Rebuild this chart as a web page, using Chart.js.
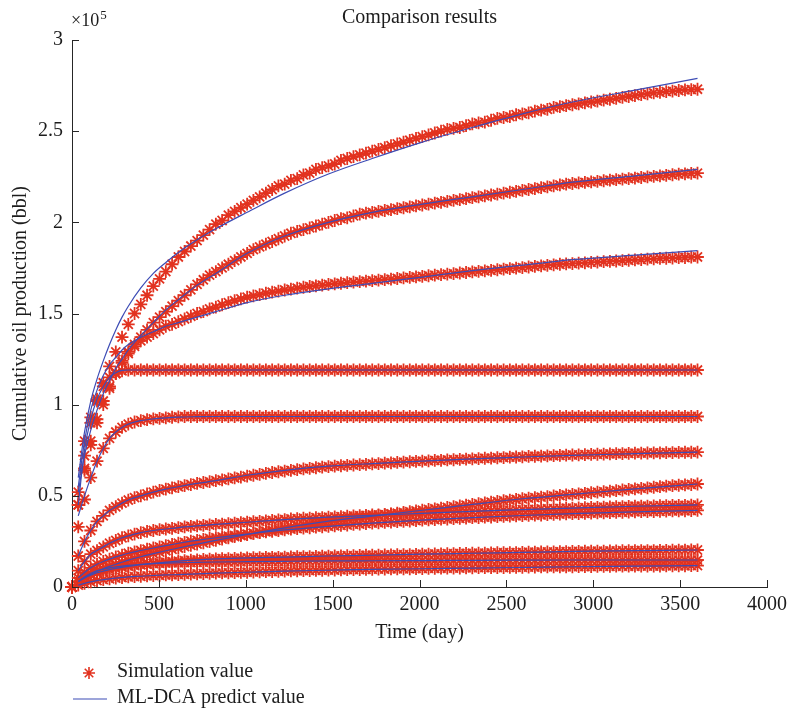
<!DOCTYPE html>
<html>
<head>
<meta charset="utf-8">
<title>Comparison results</title>
<script src="https://cdn.jsdelivr.net/npm/chart.js"></script>
<style>
  html, body { margin: 0; padding: 0; background: #fff; }
  #wrap { width: 787px; height: 712px; }
</style>
</head>
<body>
<div id="wrap"><canvas id="chart" width="787" height="712"></canvas></div>
<script>
// time axis of the simulation samples (day)
const days = [0, 36, 72, 108, 144, 180, 216, 252, 288, 324,
  360, 396, 432, 468, 504, 540, 576, 612, 648, 684,
  720, 756, 792, 828, 864, 900, 936, 972, 1008, 1044,
  1080, 1116, 1152, 1188, 1224, 1260, 1296, 1332, 1368, 1404,
  1440, 1476, 1512, 1548, 1584, 1620, 1656, 1692, 1728, 1764,
  1800, 1836, 1872, 1908, 1944, 1980, 2016, 2052, 2088, 2124,
  2160, 2196, 2232, 2268, 2304, 2340, 2376, 2412, 2448, 2484,
  2520, 2556, 2592, 2628, 2664, 2700, 2736, 2772, 2808, 2844,
  2880, 2916, 2952, 2988, 3024, 3060, 3096, 3132, 3168, 3204,
  3240, 3276, 3312, 3348, 3384, 3420, 3456, 3492, 3528, 3564,
  3600];

// simulation values, cumulative oil (x1e5 bbl)
const sim1 = [0, 0.45, 0.72, 0.9, 1.02, 1.12, 1.21, 1.29, 1.37, 1.44,
  1.5, 1.55, 1.6, 1.65, 1.69, 1.73, 1.77, 1.81, 1.84, 1.87,
  1.9, 1.93, 1.96, 1.99, 2.01, 2.04, 2.06, 2.08, 2.1, 2.12,
  2.14, 2.16, 2.18, 2.2, 2.21, 2.23, 2.24, 2.26, 2.27, 2.29,
  2.3, 2.31, 2.32, 2.34, 2.35, 2.36, 2.37, 2.38, 2.39, 2.4,
  2.41, 2.42, 2.43, 2.44, 2.45, 2.46, 2.47, 2.48, 2.49, 2.5,
  2.51, 2.515, 2.52, 2.53, 2.54, 2.545, 2.55, 2.56, 2.57, 2.575,
  2.58, 2.59, 2.595, 2.6, 2.61, 2.615, 2.62, 2.63, 2.635, 2.64,
  2.645, 2.65, 2.655, 2.66, 2.665, 2.67, 2.675, 2.68, 2.685, 2.69,
  2.695, 2.7, 2.705, 2.71, 2.713, 2.717, 2.72, 2.723, 2.726, 2.728,
  2.73];
const sim2 = [0, 0.45, 0.64, 0.78, 0.9, 1.0, 1.09, 1.17, 1.24, 1.29,
  1.33, 1.37, 1.41, 1.45, 1.48, 1.51, 1.54, 1.57, 1.6, 1.63,
  1.66, 1.685, 1.71, 1.73, 1.75, 1.77, 1.79, 1.81, 1.83, 1.85,
  1.865, 1.88, 1.895, 1.91, 1.925, 1.94, 1.95, 1.96, 1.97, 1.98,
  1.99, 2.0, 2.01, 2.02, 2.025, 2.035, 2.045, 2.05, 2.055, 2.06,
  2.065, 2.07, 2.075, 2.08, 2.085, 2.09, 2.095, 2.1, 2.105, 2.11,
  2.115, 2.12, 2.125, 2.13, 2.135, 2.14, 2.145, 2.15, 2.155, 2.16,
  2.165, 2.17, 2.175, 2.18, 2.185, 2.19, 2.195, 2.2, 2.205, 2.21,
  2.213, 2.216, 2.219, 2.222, 2.225, 2.228, 2.231, 2.234, 2.237, 2.24,
  2.243, 2.246, 2.249, 2.252, 2.255, 2.258, 2.261, 2.264, 2.266, 2.268,
  2.27];
const sim3 = [0, 0.45, 0.65, 0.8, 0.92, 1.02, 1.1, 1.17, 1.23, 1.28,
  1.32, 1.35, 1.37, 1.39, 1.41, 1.43, 1.44, 1.455, 1.47, 1.485,
  1.5, 1.51, 1.525, 1.535, 1.548, 1.56, 1.57, 1.58, 1.59, 1.597,
  1.604, 1.611, 1.617, 1.623, 1.629, 1.634, 1.639, 1.644, 1.648, 1.652,
  1.656, 1.66, 1.663, 1.666, 1.669, 1.672, 1.675, 1.678, 1.68, 1.683,
  1.686, 1.689, 1.692, 1.695, 1.698, 1.701, 1.704, 1.707, 1.71, 1.713,
  1.716, 1.719, 1.722, 1.725, 1.728, 1.731, 1.734, 1.737, 1.74, 1.743,
  1.746, 1.749, 1.752, 1.755, 1.758, 1.761, 1.764, 1.767, 1.77, 1.772,
  1.774, 1.776, 1.778, 1.78, 1.782, 1.784, 1.786, 1.788, 1.79, 1.792,
  1.794, 1.796, 1.798, 1.8, 1.802, 1.803, 1.804, 1.806, 1.807, 1.809,
  1.81];
const sim4 = [0, 0.52, 0.8, 0.93, 1.03, 1.1, 1.15, 1.175, 1.185, 1.19,
  1.19, 1.19, 1.19, 1.19, 1.19, 1.19, 1.19, 1.19, 1.19, 1.19,
  1.19, 1.19, 1.19, 1.19, 1.19, 1.19, 1.19, 1.19, 1.19, 1.19,
  1.19, 1.19, 1.19, 1.19, 1.19, 1.19, 1.19, 1.19, 1.19, 1.19,
  1.19, 1.19, 1.19, 1.19, 1.19, 1.19, 1.19, 1.19, 1.19, 1.19,
  1.19, 1.19, 1.19, 1.19, 1.19, 1.19, 1.19, 1.19, 1.19, 1.19,
  1.19, 1.19, 1.19, 1.19, 1.19, 1.19, 1.19, 1.19, 1.19, 1.19,
  1.19, 1.19, 1.19, 1.19, 1.19, 1.19, 1.19, 1.19, 1.19, 1.19,
  1.19, 1.19, 1.19, 1.19, 1.19, 1.19, 1.19, 1.19, 1.19, 1.19,
  1.19, 1.19, 1.19, 1.19, 1.19, 1.19, 1.19, 1.19, 1.19, 1.19,
  1.19];
const sim5 = [0, 0.33, 0.48, 0.6, 0.69, 0.76, 0.815, 0.85, 0.875, 0.893,
  0.905, 0.912, 0.918, 0.922, 0.925, 0.928, 0.931, 0.933, 0.935, 0.935,
  0.935, 0.935, 0.935, 0.935, 0.935, 0.935, 0.935, 0.935, 0.935, 0.935,
  0.935, 0.935, 0.935, 0.935, 0.935, 0.935, 0.935, 0.935, 0.935, 0.935,
  0.935, 0.935, 0.935, 0.935, 0.935, 0.935, 0.935, 0.935, 0.935, 0.935,
  0.935, 0.935, 0.935, 0.935, 0.935, 0.935, 0.935, 0.935, 0.935, 0.935,
  0.935, 0.935, 0.935, 0.935, 0.935, 0.935, 0.935, 0.935, 0.935, 0.935,
  0.935, 0.935, 0.935, 0.935, 0.935, 0.935, 0.935, 0.935, 0.935, 0.935,
  0.935, 0.935, 0.935, 0.935, 0.935, 0.935, 0.935, 0.935, 0.935, 0.935,
  0.935, 0.935, 0.935, 0.935, 0.935, 0.935, 0.935, 0.935, 0.935, 0.935,
  0.935];
const sim6 = [0, 0.17, 0.25, 0.31, 0.36, 0.39, 0.42, 0.44, 0.46, 0.477,
  0.49, 0.5, 0.51, 0.52, 0.53, 0.537, 0.544, 0.55, 0.556, 0.562,
  0.568, 0.573, 0.578, 0.583, 0.588, 0.593, 0.598, 0.603, 0.608, 0.613,
  0.618, 0.623, 0.628, 0.632, 0.636, 0.64, 0.644, 0.648, 0.651, 0.654,
  0.657, 0.66, 0.663, 0.665, 0.667, 0.669, 0.671, 0.673, 0.675, 0.677,
  0.679, 0.681, 0.683, 0.685, 0.687, 0.689, 0.69, 0.692, 0.694, 0.695,
  0.697, 0.698, 0.7, 0.701, 0.703, 0.704, 0.706, 0.707, 0.709, 0.71,
  0.712, 0.713, 0.714, 0.716, 0.717, 0.718, 0.719, 0.72, 0.722, 0.723,
  0.724, 0.725, 0.726, 0.727, 0.728, 0.729, 0.73, 0.731, 0.732, 0.733,
  0.734, 0.734, 0.735, 0.736, 0.736, 0.737, 0.737, 0.738, 0.739, 0.739,
  0.74];
const sim7 = [0, 0.03, 0.05, 0.07, 0.085, 0.1, 0.113, 0.125, 0.136, 0.147,
  0.157, 0.166, 0.175, 0.183, 0.191, 0.199, 0.207, 0.214, 0.221, 0.228,
  0.235, 0.242, 0.249, 0.256, 0.263, 0.27, 0.276, 0.282, 0.288, 0.294,
  0.3, 0.306, 0.312, 0.318, 0.324, 0.33, 0.336, 0.341, 0.346, 0.351,
  0.356, 0.361, 0.365, 0.369, 0.373, 0.377, 0.381, 0.385, 0.389, 0.393,
  0.397, 0.401, 0.405, 0.409, 0.413, 0.417, 0.421, 0.425, 0.429, 0.433,
  0.437, 0.441, 0.445, 0.449, 0.453, 0.457, 0.461, 0.465, 0.469, 0.473,
  0.477, 0.48, 0.484, 0.487, 0.49, 0.493, 0.496, 0.499, 0.502, 0.505,
  0.508, 0.511, 0.514, 0.517, 0.52, 0.523, 0.526, 0.529, 0.532, 0.535,
  0.538, 0.541, 0.544, 0.547, 0.55, 0.553, 0.556, 0.558, 0.56, 0.562,
  0.565];
const sim8 = [0, 0.09, 0.14, 0.18, 0.2, 0.22, 0.24, 0.255, 0.27, 0.28,
  0.29, 0.298, 0.305, 0.31, 0.315, 0.318, 0.322, 0.326, 0.33, 0.333,
  0.335, 0.338, 0.34, 0.343, 0.345, 0.348, 0.35, 0.353, 0.355, 0.358,
  0.36, 0.363, 0.365, 0.368, 0.37, 0.373, 0.375, 0.377, 0.378, 0.38,
  0.381, 0.383, 0.385, 0.386, 0.388, 0.39, 0.391, 0.393, 0.395, 0.396,
  0.397, 0.399, 0.4, 0.401, 0.402, 0.404, 0.405, 0.407, 0.408, 0.409,
  0.41, 0.411, 0.413, 0.414, 0.415, 0.416, 0.418, 0.419, 0.42, 0.421,
  0.422, 0.423, 0.424, 0.425, 0.426, 0.428, 0.429, 0.43, 0.431, 0.432,
  0.433, 0.434, 0.435, 0.436, 0.437, 0.438, 0.439, 0.44, 0.441, 0.442,
  0.443, 0.443, 0.444, 0.445, 0.446, 0.446, 0.447, 0.448, 0.448, 0.449,
  0.45];
const sim9 = [0, 0.05, 0.08, 0.105, 0.125, 0.14, 0.153, 0.165, 0.175, 0.185,
  0.193, 0.2, 0.207, 0.214, 0.22, 0.227, 0.234, 0.24, 0.245, 0.251,
  0.256, 0.261, 0.266, 0.27, 0.275, 0.279, 0.283, 0.287, 0.29, 0.294,
  0.298, 0.302, 0.305, 0.309, 0.313, 0.317, 0.32, 0.323, 0.325, 0.328,
  0.33, 0.333, 0.335, 0.338, 0.34, 0.343, 0.345, 0.348, 0.35, 0.352,
  0.354, 0.356, 0.358, 0.36, 0.362, 0.364, 0.367, 0.368, 0.37, 0.372,
  0.373, 0.375, 0.376, 0.378, 0.38, 0.381, 0.383, 0.384, 0.386, 0.387,
  0.389, 0.39, 0.392, 0.393, 0.394, 0.395, 0.397, 0.398, 0.4, 0.401,
  0.402, 0.403, 0.404, 0.405, 0.406, 0.407, 0.408, 0.409, 0.41, 0.411,
  0.412, 0.413, 0.413, 0.414, 0.415, 0.416, 0.417, 0.418, 0.418, 0.419,
  0.42];
const sim10 = [0, 0.03, 0.05, 0.065, 0.078, 0.087, 0.095, 0.102, 0.108, 0.113,
  0.118, 0.122, 0.126, 0.13, 0.133, 0.136, 0.139, 0.142, 0.145, 0.147,
  0.149, 0.151, 0.153, 0.154, 0.155, 0.156, 0.157, 0.158, 0.16, 0.161,
  0.161, 0.162, 0.163, 0.163, 0.164, 0.165, 0.166, 0.167, 0.167, 0.168,
  0.169, 0.169, 0.17, 0.171, 0.172, 0.172, 0.173, 0.174, 0.174, 0.175,
  0.176, 0.176, 0.177, 0.178, 0.178, 0.179, 0.18, 0.18, 0.181, 0.182,
  0.183, 0.183, 0.184, 0.184, 0.185, 0.186, 0.186, 0.187, 0.188, 0.188,
  0.189, 0.189, 0.19, 0.191, 0.191, 0.192, 0.192, 0.193, 0.194, 0.194,
  0.195, 0.195, 0.196, 0.196, 0.197, 0.197, 0.198, 0.198, 0.199, 0.199,
  0.199, 0.2, 0.2, 0.2, 0.201, 0.201, 0.202, 0.202, 0.202, 0.203,
  0.203];
const sim11 = [0, 0.03, 0.055, 0.075, 0.09, 0.098, 0.105, 0.11, 0.115, 0.119,
  0.122, 0.124, 0.126, 0.128, 0.13, 0.131, 0.132, 0.133, 0.134, 0.134,
  0.135, 0.135, 0.136, 0.136, 0.137, 0.137, 0.138, 0.138, 0.139, 0.139,
  0.139, 0.14, 0.14, 0.14, 0.141, 0.141, 0.142, 0.142, 0.142, 0.142,
  0.143, 0.143, 0.143, 0.143, 0.144, 0.144, 0.144, 0.144, 0.144, 0.145,
  0.145, 0.145, 0.145, 0.145, 0.145, 0.145, 0.145, 0.145, 0.145, 0.145,
  0.145, 0.146, 0.146, 0.146, 0.146, 0.146, 0.146, 0.147, 0.147, 0.147,
  0.147, 0.147, 0.147, 0.147, 0.147, 0.148, 0.148, 0.148, 0.148, 0.148,
  0.148, 0.148, 0.148, 0.148, 0.148, 0.148, 0.148, 0.148, 0.148, 0.148,
  0.148, 0.148, 0.148, 0.148, 0.148, 0.148, 0.148, 0.148, 0.148, 0.148,
  0.148];
const sim12 = [0, 0.01, 0.02, 0.028, 0.035, 0.04, 0.045, 0.049, 0.052, 0.055,
  0.057, 0.059, 0.061, 0.063, 0.064, 0.066, 0.067, 0.068, 0.07, 0.071,
  0.072, 0.073, 0.075, 0.076, 0.077, 0.078, 0.079, 0.08, 0.081, 0.082,
  0.083, 0.084, 0.085, 0.086, 0.087, 0.088, 0.089, 0.09, 0.09, 0.091,
  0.092, 0.093, 0.093, 0.094, 0.095, 0.095, 0.096, 0.097, 0.097, 0.098,
  0.098, 0.099, 0.099, 0.1, 0.1, 0.101, 0.101, 0.102, 0.102, 0.103,
  0.103, 0.104, 0.104, 0.105, 0.105, 0.106, 0.106, 0.106, 0.107, 0.107,
  0.108, 0.108, 0.108, 0.109, 0.109, 0.11, 0.11, 0.11, 0.111, 0.111,
  0.111, 0.112, 0.112, 0.112, 0.113, 0.113, 0.113, 0.114, 0.114, 0.114,
  0.114, 0.115, 0.115, 0.115, 0.115, 0.116, 0.116, 0.116, 0.116, 0.117,
  0.117];

// ML-DCA predictions (x1e5 bbl) on their own day grid
const predDays = [36, 72, 108, 144, 180, 216, 252, 288, 324, 396,
  468, 540, 612, 720, 828, 1008, 1224, 1476, 1728, 2016,
  2304, 2592, 2880, 3240, 3600];
const pred1 = [0.6, 0.85, 1.02, 1.14, 1.24, 1.33, 1.41, 1.48, 1.54, 1.64,
  1.72, 1.78, 1.835, 1.905, 1.965, 2.055, 2.16, 2.265, 2.35, 2.44,
  2.52, 2.595, 2.66, 2.725, 2.79];
const pred2 = [0.52, 0.72, 0.86, 0.97, 1.06, 1.13, 1.2, 1.25, 1.3, 1.38,
  1.45, 1.52, 1.575, 1.655, 1.72, 1.83, 1.925, 2.0, 2.055, 2.1,
  2.14, 2.18, 2.22, 2.255, 2.29];
const pred3 = [0.55, 0.8, 0.97, 1.08, 1.16, 1.22, 1.26, 1.3, 1.33, 1.37,
  1.4, 1.43, 1.45, 1.48, 1.51, 1.56, 1.6, 1.635, 1.665, 1.7,
  1.735, 1.765, 1.795, 1.82, 1.845];
const pred4 = [0.45, 0.75, 0.92, 1.03, 1.1, 1.15, 1.175, 1.188, 1.19, 1.19,
  1.19, 1.19, 1.19, 1.19, 1.19, 1.19, 1.19, 1.19, 1.19, 1.19,
  1.19, 1.19, 1.19, 1.19, 1.19];
const pred5 = [0.39, 0.5, 0.6, 0.69, 0.76, 0.815, 0.85, 0.875, 0.893, 0.912,
  0.922, 0.928, 0.932, 0.934, 0.935, 0.935, 0.935, 0.935, 0.935, 0.935,
  0.935, 0.935, 0.935, 0.935, 0.935];
const pred6 = [0.17, 0.25, 0.31, 0.36, 0.39, 0.42, 0.44, 0.46, 0.477, 0.5,
  0.52, 0.537, 0.55, 0.568, 0.583, 0.613, 0.64, 0.663, 0.677, 0.69,
  0.703, 0.713, 0.722, 0.731, 0.74];
const pred7 = [0.03, 0.05, 0.07, 0.085, 0.1, 0.113, 0.125, 0.136, 0.147, 0.166,
  0.183, 0.199, 0.214, 0.235, 0.256, 0.288, 0.324, 0.361, 0.389, 0.421,
  0.453, 0.484, 0.508, 0.538, 0.565];
const pred8 = [0.09, 0.14, 0.18, 0.2, 0.22, 0.24, 0.255, 0.27, 0.28, 0.298,
  0.31, 0.318, 0.326, 0.335, 0.343, 0.355, 0.37, 0.383, 0.393, 0.404,
  0.415, 0.424, 0.433, 0.443, 0.45];
const pred9 = [0.05, 0.08, 0.105, 0.125, 0.14, 0.153, 0.165, 0.175, 0.185, 0.2,
  0.214, 0.227, 0.24, 0.256, 0.27, 0.29, 0.313, 0.333, 0.35, 0.367,
  0.38, 0.392, 0.402, 0.412, 0.42];
const pred10 = [0.03, 0.05, 0.065, 0.078, 0.087, 0.095, 0.102, 0.108, 0.113, 0.122,
  0.13, 0.136, 0.142, 0.149, 0.154, 0.16, 0.164, 0.17, 0.174, 0.18,
  0.185, 0.19, 0.195, 0.199, 0.203];
const pred11 = [0.03, 0.055, 0.075, 0.09, 0.098, 0.105, 0.11, 0.115, 0.119, 0.124,
  0.128, 0.131, 0.133, 0.135, 0.137, 0.139, 0.141, 0.143, 0.144, 0.145,
  0.146, 0.147, 0.148, 0.148, 0.148];
const pred12 = [0.01, 0.02, 0.028, 0.035, 0.04, 0.045, 0.049, 0.052, 0.055, 0.059,
  0.063, 0.066, 0.068, 0.072, 0.076, 0.081, 0.087, 0.092, 0.097, 0.1,
  0.104, 0.107, 0.111, 0.114, 0.117];

const simSeries = [sim1, sim2, sim3, sim4, sim5, sim6, sim7, sim8, sim9, sim10, sim11, sim12];
const predSeries = [pred1, pred2, pred3, pred4, pred5, pred6, pred7, pred8, pred9, pred10, pred11, pred12];

const titleText = "Comparison results";
const xTitle = "Time (day)";
const yTitle = "Cumulative oil production (bbl)";
const legendSim = "Simulation value";
const legendPred = "ML-DCA predict value";

const simColor = "#e2321f";
const predColor = "#3d4cb5";
const axisColor = "#262626";
const textColor = "#1c1c1c";
const serif = "'Liberation Serif', 'Times New Roman', serif";

function drawStar(ctx, x, y, r) {
    ctx.beginPath();
    for (let k = 0; k < 4; k++) {
        const a = k * Math.PI / 4;
        ctx.moveTo(x - Math.cos(a) * r, y - Math.sin(a) * r);
        ctx.lineTo(x + Math.cos(a) * r, y + Math.sin(a) * r);
    }
    ctx.stroke();
}

// inward tick marks, title, exponent label and the legend below the axes
const decorations = {
    id: "decorations",
    afterDraw(chart) {
        const { ctx, chartArea, scales } = chart;
        ctx.save();

        ctx.strokeStyle = axisColor;
        ctx.lineWidth = 1;
        ctx.beginPath();
        scales.x.ticks.forEach(t => {
            const px = Math.round(scales.x.getPixelForValue(t.value)) + 0.5;
            ctx.moveTo(px, chartArea.bottom);
            ctx.lineTo(px, chartArea.bottom - 7);
        });
        scales.y.ticks.forEach(t => {
            const py = Math.round(scales.y.getPixelForValue(t.value)) + 0.5;
            ctx.moveTo(chartArea.left, py);
            ctx.lineTo(chartArea.left + 7, py);
        });
        ctx.stroke();

        ctx.fillStyle = textColor;
        ctx.textBaseline = "alphabetic";
        ctx.font = "20px " + serif;
        ctx.textAlign = "center";
        ctx.fillText(titleText, (chartArea.left + chartArea.right) / 2, 23);

        ctx.textAlign = "left";
        ctx.font = "18px " + serif;
        ctx.fillText("\u00d710", 71, 26);
        const w = ctx.measureText("\u00d710").width;
        ctx.font = "13px " + serif;
        ctx.fillText("5", 71 + w + 1, 19);

        // legend
        ctx.strokeStyle = simColor;
        ctx.lineWidth = 1.6;
        drawStar(ctx, 89, 673, 6);
        ctx.strokeStyle = predColor;
        ctx.lineWidth = 1.2;
        ctx.beginPath();
        ctx.moveTo(73, 699);
        ctx.lineTo(107, 699);
        ctx.stroke();
        ctx.font = "20px " + serif;
        ctx.textBaseline = "middle";
        ctx.fillText(legendSim, 117, 672);
        ctx.fillText(legendPred, 117, 698);

        ctx.restore();
    }
};

const datasets = [];
predSeries.forEach(vals => {
    datasets.push({
        label: legendPred,
        data: vals.map((v, i) => ({ x: predDays[i], y: v })),
        borderColor: predColor,
        borderWidth: 1.2,
        pointRadius: 0,
        fill: false,
        cubicInterpolationMode: "monotone",
        order: 0
    });
});
simSeries.forEach(vals => {
    datasets.push({
        label: legendSim,
        data: vals.map((v, i) => ({ x: days[i], y: v })),
        showLine: false,
        pointStyle: "star",
        pointRadius: 6.4,
        pointBorderWidth: 1.8,
        pointBorderColor: simColor,
        pointBackgroundColor: simColor,
        borderColor: simColor,
        clip: false,
        order: 1
    });
});

const tickFont = { family: serif, size: 20 };

new Chart(document.getElementById("chart").getContext("2d"), {
    type: "line",
    data: { datasets },
    options: {
        responsive: false,
        animation: false,
        events: [],
        layout: { padding: { top: 40, right: 20, bottom: 65, left: 0 } },
        plugins: { legend: { display: false }, tooltip: { enabled: false } },
        scales: {
            x: {
                type: "linear",
                min: 0,
                max: 4000,
                afterFit: s => { s.height = 60; s.paddingLeft = 0; s.paddingRight = 0; },
                grid: { display: false, drawTicks: false },
                border: { display: true, color: axisColor, width: 1 },
                ticks: {
                    stepSize: 500, padding: 6, color: textColor, font: tickFont,
                    maxRotation: 0, autoSkip: false,
                    callback: v => String(v)
                },
                title: {
                    display: true, text: xTitle, color: textColor, font: tickFont,
                    padding: { top: 0, bottom: 2 }
                }
            },
            y: {
                type: "linear",
                min: 0,
                max: 3,
                afterFit: s => { s.width = 72; s.paddingTop = 0; s.paddingBottom = 0; },
                grid: { display: false, drawTicks: false },
                border: { display: true, color: axisColor, width: 1 },
                ticks: {
                    stepSize: 0.5, padding: 9, color: textColor, font: tickFont,
                    callback: v => String(v)
                },
                title: {
                    display: true, text: yTitle, color: textColor, font: tickFont,
                    padding: { top: 9, bottom: 0 }
                }
            }
        }
    },
    plugins: [decorations]
});
</script>
</body>
</html>
